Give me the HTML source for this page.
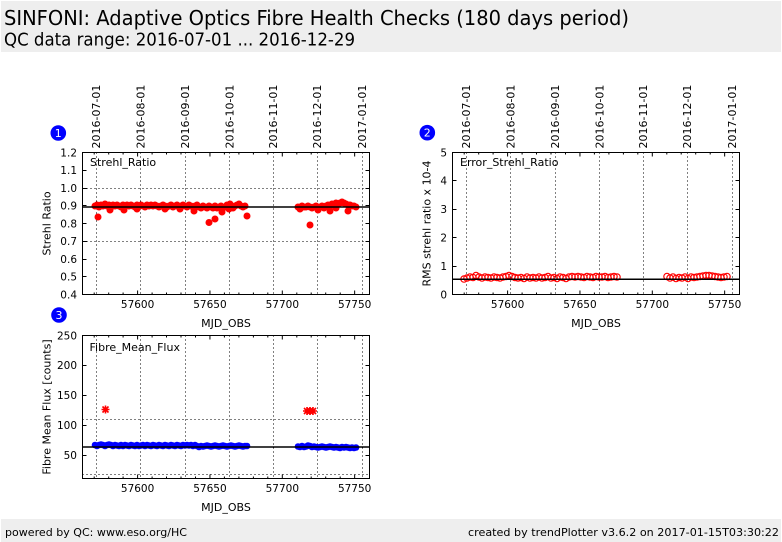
<!DOCTYPE html>
<html><head><meta charset="utf-8"><style>
html,body{margin:0;padding:0;background:#fff;}
svg{display:block;}
text{font-family:"DejaVu Sans","Liberation Sans",sans-serif;fill:#000;}
.mono{font-family:"DejaVu Sans Mono","Liberation Mono",monospace;font-size:11px;}
.tk{font-size:10.5px;}
.al{font-size:11px;}
</style></head><body>
<svg width="782" height="542" viewBox="0 0 782 542" xmlns="http://www.w3.org/2000/svg">
<rect x="0" y="0" width="782" height="542" fill="#fff"/>
<rect x="1" y="1" width="780" height="51" fill="#eeeeee"/>
<text x="4" y="25" font-size="20" textLength="625" lengthAdjust="spacingAndGlyphs">SINFONI: Adaptive Optics Fibre Health Checks (180 days period)</text>
<text x="4" y="45.5" font-size="18" textLength="351" lengthAdjust="spacingAndGlyphs">QC data range: 2016-07-01 ... 2016-12-29</text>
<rect x="1" y="519" width="780" height="23" fill="#eeeeee"/>
<text x="5" y="536" font-size="11" textLength="182" lengthAdjust="spacingAndGlyphs">powered by QC: www.eso.org/HC</text>
<text x="468" y="536" font-size="11" textLength="311" lengthAdjust="spacingAndGlyphs">created by trendPlotter v3.6.2 on 2017-01-15T03:30:22</text>

<defs>
<path id="xt" d="M137.6 0v-4M209.95 0v-4M282.3 0v-4M354.65 0v-4M94.2 0v-2M108.7 0v-2M123.1 0v-2M152.1 0v-2M166.5 0v-2M181 0v-2M195.5 0v-2M224.4 0v-2M238.9 0v-2M253.4 0v-2M267.8 0v-2M296.8 0v-2M311.2 0v-2M325.7 0v-2M340.2 0v-2"/>
<path id="vd" d="M96.5 0v142M140.5 0v142M185.5 0v142M229.5 0v142M273.5 0v142M317.5 0v142M362.5 0v142"/>
<path id="vd3" d="M96.5 0v143M140.5 0v143M185.5 0v143M229.5 0v143M273.5 0v143M317.5 0v143M362.5 0v143"/>
</defs>

<!-- ============ PLOT 1 ============ -->
<g stroke="#000" stroke-width="1" stroke-dasharray="1,3" fill="none">
<use href="#vd" transform="translate(0,152.5)"/>
<path d="M82.5 188.5H369.5M82.5 241.5H369.5"/>
</g>
<g fill="#ff0000">
<circle cx="95" cy="206" r="3.5"/><circle cx="97" cy="205" r="3.5"/><circle cx="99" cy="207" r="3.5"/><circle cx="101" cy="205" r="3.5"/><circle cx="103" cy="206" r="3.5"/><circle cx="105" cy="204" r="3.5"/><circle cx="107" cy="206" r="3.5"/><circle cx="109" cy="205" r="3.5"/><circle cx="111" cy="207" r="3.5"/><circle cx="113" cy="205" r="3.5"/><circle cx="115" cy="206" r="3.5"/><circle cx="117" cy="205" r="3.5"/><circle cx="119" cy="206" r="3.5"/><circle cx="121" cy="207" r="3.5"/><circle cx="123" cy="205" r="3.5"/><circle cx="125" cy="206" r="3.5"/><circle cx="127" cy="205" r="3.5"/><circle cx="129" cy="206" r="3.5"/><circle cx="131" cy="205" r="3.5"/><circle cx="133" cy="206" r="3.5"/><circle cx="135" cy="207" r="3.5"/><circle cx="137" cy="205" r="3.5"/><circle cx="139" cy="206" r="3.5"/><circle cx="141" cy="205" r="3.5"/><circle cx="143" cy="206" r="3.5"/><circle cx="145" cy="207" r="3.5"/><circle cx="147" cy="205" r="3.5"/><circle cx="149" cy="206" r="3.5"/><circle cx="151" cy="205" r="3.5"/><circle cx="153" cy="206" r="3.5"/><circle cx="155" cy="205" r="3.5"/><circle cx="157" cy="206" r="3.5"/><circle cx="159" cy="207" r="3.5"/><circle cx="161" cy="206" r="3.5"/><circle cx="163" cy="205" r="3.5"/><circle cx="165" cy="206" r="3.5"/><circle cx="167" cy="207" r="3.5"/><circle cx="169" cy="206" r="3.5"/><circle cx="171" cy="205" r="3.5"/><circle cx="173" cy="207" r="3.5"/><circle cx="175" cy="206" r="3.5"/><circle cx="177" cy="205" r="3.5"/><circle cx="179" cy="207" r="3.5"/><circle cx="181" cy="206" r="3.5"/><circle cx="183" cy="205" r="3.5"/><circle cx="185" cy="206" r="3.5"/><circle cx="187" cy="207" r="3.5"/><circle cx="189" cy="205" r="3.5"/><circle cx="191" cy="206" r="3.5"/><circle cx="193" cy="207" r="3.5"/><circle cx="195" cy="206" r="3.5"/><circle cx="197" cy="205" r="3.5"/><circle cx="199" cy="207" r="3.5"/><circle cx="201" cy="208" r="3.5"/><circle cx="203" cy="206" r="3.5"/><circle cx="205" cy="207" r="3.5"/><circle cx="207" cy="208" r="3.5"/><circle cx="209" cy="206" r="3.5"/><circle cx="211" cy="207" r="3.5"/><circle cx="213" cy="208" r="3.5"/><circle cx="215" cy="206" r="3.5"/><circle cx="217" cy="208" r="3.5"/><circle cx="219" cy="207" r="3.5"/><circle cx="221" cy="206" r="3.5"/><circle cx="223" cy="208" r="3.5"/><circle cx="225" cy="207" r="3.5"/><circle cx="227" cy="205" r="3.5"/><circle cx="229" cy="207" r="3.5"/><circle cx="231" cy="206" r="3.5"/><circle cx="233" cy="208" r="3.5"/><circle cx="235" cy="206" r="3.5"/><circle cx="237" cy="205" r="3.5"/><circle cx="239" cy="204" r="3.5"/><circle cx="241" cy="206" r="3.5"/><circle cx="243" cy="207" r="3.5"/><circle cx="245" cy="206" r="3.5"/>
<circle cx="98" cy="217" r="3.5"/><circle cx="110" cy="210" r="3.5"/><circle cx="124" cy="210" r="3.5"/><circle cx="137" cy="209" r="3.5"/><circle cx="165" cy="209" r="3.5"/><circle cx="180" cy="209" r="3.5"/><circle cx="194" cy="211" r="3.5"/><circle cx="209" cy="222.5" r="3.5"/><circle cx="215" cy="219" r="3.5"/><circle cx="222" cy="212" r="3.5"/><circle cx="229" cy="209" r="3.5"/><circle cx="247" cy="216" r="3.5"/><circle cx="230" cy="204" r="3.5"/>
<circle cx="298" cy="207" r="3.5"/><circle cx="300" cy="208" r="3.5"/><circle cx="302" cy="206" r="3.5"/><circle cx="304" cy="207" r="3.5"/><circle cx="306" cy="207" r="3.5"/><circle cx="308" cy="206" r="3.5"/><circle cx="310" cy="207" r="3.5"/><circle cx="312" cy="208" r="3.5"/><circle cx="314" cy="207" r="3.5"/><circle cx="316" cy="206" r="3.5"/><circle cx="318" cy="208" r="3.5"/><circle cx="320" cy="207" r="3.5"/><circle cx="322" cy="206" r="3.5"/><circle cx="324" cy="208" r="3.5"/><circle cx="326" cy="206" r="3.5"/><circle cx="328" cy="205" r="3.5"/><circle cx="330" cy="206" r="3.5"/><circle cx="332" cy="204" r="3.5"/><circle cx="334" cy="205" r="3.5"/><circle cx="336" cy="203" r="3.5"/><circle cx="338" cy="204" r="3.5"/><circle cx="340" cy="203" r="3.5"/><circle cx="342" cy="202" r="3.5"/><circle cx="344" cy="203" r="3.5"/><circle cx="346" cy="204" r="3.5"/><circle cx="348" cy="205" r="3.5"/><circle cx="350" cy="205" r="3.5"/><circle cx="352" cy="206" r="3.5"/><circle cx="354" cy="206" r="3.5"/><circle cx="356" cy="207" r="3.5"/>
<circle cx="310" cy="225" r="3.5"/><circle cx="330" cy="211" r="3.5"/><circle cx="348" cy="211" r="3.5"/><circle cx="300" cy="209" r="3.5"/><circle cx="318" cy="210" r="3.5"/><circle cx="336" cy="208" r="3.5"/>
</g>
<path d="M82.5 207H369.5" stroke="#000" stroke-width="1.5"/>
<rect x="82.5" y="152.5" width="287" height="142" fill="none" stroke="#000" stroke-width="1"/>
<g stroke="#000" stroke-width="1" fill="none">
<use href="#xt" transform="translate(0,294.5)"/>
<use href="#xt" transform="translate(0,152.5) scale(1,-1)"/>
<path d="M82.5 170.5h4M82.5 188.5h4M82.5 205.5h4M82.5 223.5h4M82.5 241.5h4M82.5 259.5h4M82.5 276.5h4M369.5 170.5h-4M369.5 188.5h-4M369.5 205.5h-4M369.5 223.5h-4M369.5 241.5h-4M369.5 259.5h-4M369.5 276.5h-4"/>
</g>
<g class="tk" text-anchor="end">
<text x="77" y="156.3">1.2</text><text x="77" y="174.05">1.1</text><text x="77" y="191.8">1.0</text><text x="77" y="209.55">0.9</text><text x="77" y="227.3">0.8</text><text x="77" y="245.05">0.7</text><text x="77" y="262.8">0.6</text><text x="77" y="280.55">0.5</text><text x="77" y="298.3">0.4</text>
</g>
<g class="tk" text-anchor="middle">
<text x="137.6" y="308">57600</text><text x="209.95" y="308">57650</text><text x="282.3" y="308">57700</text><text x="354.65" y="308">57750</text>
</g>
<text class="al" x="226" y="327" text-anchor="middle">MJD_OBS</text>
<text class="al" transform="translate(50.5,223.5) rotate(-90)" text-anchor="middle">Strehl Ratio</text>
<text class="al" x="90" y="166">Strehl_Ratio</text>
<g class="mono">
<text transform="translate(100,148.5) rotate(-90)">2016-07-01</text>
<text transform="translate(144.5,148.5) rotate(-90)">2016-08-01</text>
<text transform="translate(189,148.5) rotate(-90)">2016-09-01</text>
<text transform="translate(233.3,148.5) rotate(-90)">2016-10-01</text>
<text transform="translate(277,148.5) rotate(-90)">2016-11-01</text>
<text transform="translate(321.2,148.5) rotate(-90)">2016-12-01</text>
<text transform="translate(366,148.5) rotate(-90)">2017-01-01</text>
</g>
<circle cx="58.3" cy="133" r="7.8" fill="#0000ff"/>
<text x="58.3" y="137" font-size="11" text-anchor="middle" style="fill:#fff">1</text>

<!-- ============ PLOT 2 ============ -->
<g stroke="#000" stroke-width="1" stroke-dasharray="1,3" fill="none">
<use href="#vd" transform="translate(370,152.5)"/>
</g>
<g fill="none" stroke="#ff0000" stroke-width="1.2">
<circle cx="464" cy="279" r="3.2"/><circle cx="467" cy="278" r="3.2"/><circle cx="470" cy="277" r="3.2"/><circle cx="473" cy="277.5" r="3.2"/><circle cx="476" cy="275.5" r="3.2"/><circle cx="479" cy="277" r="3.2"/><circle cx="482" cy="278" r="3.2"/><circle cx="485" cy="277" r="3.2"/><circle cx="488" cy="277.5" r="3.2"/><circle cx="491" cy="278" r="3.2"/><circle cx="494" cy="277" r="3.2"/><circle cx="497" cy="277.5" r="3.2"/><circle cx="500" cy="278" r="3.2"/><circle cx="503" cy="277" r="3.2"/><circle cx="506" cy="276.5" r="3.2"/><circle cx="509" cy="275.5" r="3.2"/><circle cx="512" cy="276.5" r="3.2"/><circle cx="515" cy="277.5" r="3.2"/><circle cx="518" cy="278" r="3.2"/><circle cx="521" cy="277.5" r="3.2"/><circle cx="524" cy="278.5" r="3.2"/><circle cx="527" cy="277" r="3.2"/><circle cx="530" cy="278" r="3.2"/><circle cx="533" cy="277.5" r="3.2"/><circle cx="536" cy="278" r="3.2"/><circle cx="539" cy="277" r="3.2"/><circle cx="542" cy="278" r="3.2"/><circle cx="545" cy="277.5" r="3.2"/><circle cx="548" cy="276.5" r="3.2"/><circle cx="551" cy="278" r="3.2"/><circle cx="554" cy="277.5" r="3.2"/><circle cx="557" cy="278.5" r="3.2"/><circle cx="560" cy="277" r="3.2"/><circle cx="563" cy="277.5" r="3.2"/><circle cx="566" cy="278.5" r="3.2"/><circle cx="569" cy="277" r="3.2"/><circle cx="572" cy="276.5" r="3.2"/><circle cx="575" cy="277" r="3.2"/><circle cx="578" cy="276.5" r="3.2"/><circle cx="581" cy="277" r="3.2"/><circle cx="584" cy="277.5" r="3.2"/><circle cx="587" cy="276.5" r="3.2"/><circle cx="590" cy="277" r="3.2"/><circle cx="593" cy="277.5" r="3.2"/><circle cx="596" cy="276.5" r="3.2"/><circle cx="599" cy="277" r="3.2"/><circle cx="602" cy="277" r="3.2"/><circle cx="605" cy="276.5" r="3.2"/><circle cx="608" cy="277.5" r="3.2"/><circle cx="611" cy="277" r="3.2"/><circle cx="614" cy="276.5" r="3.2"/><circle cx="617" cy="277" r="3.2"/>
<circle cx="667" cy="276.5" r="3.2"/><circle cx="670" cy="278" r="3.2"/><circle cx="673" cy="277" r="3.2"/><circle cx="676" cy="278.5" r="3.2"/><circle cx="679" cy="277.5" r="3.2"/><circle cx="682" cy="278" r="3.2"/><circle cx="685" cy="277" r="3.2"/><circle cx="688" cy="278.5" r="3.2"/><circle cx="691" cy="277" r="3.2"/><circle cx="694" cy="277.5" r="3.2"/><circle cx="697" cy="277" r="3.2"/><circle cx="700" cy="276.5" r="3.2"/><circle cx="703" cy="276" r="3.2"/><circle cx="706" cy="275.5" r="3.2"/><circle cx="709" cy="275.5" r="3.2"/><circle cx="712" cy="276" r="3.2"/><circle cx="715" cy="276.5" r="3.2"/><circle cx="718" cy="277" r="3.2"/><circle cx="721" cy="277.5" r="3.2"/><circle cx="724" cy="277" r="3.2"/><circle cx="727" cy="276.5" r="3.2"/>
</g>
<path d="M452.5 279.3H739.5" stroke="#000" stroke-width="1.5"/>
<rect x="452.5" y="152.5" width="287" height="142" fill="none" stroke="#000" stroke-width="1"/>
<g stroke="#000" stroke-width="1" fill="none">
<use href="#xt" transform="translate(370,294.5)"/>
<use href="#xt" transform="translate(370,152.5) scale(1,-1)"/>
<path d="M452.5 180.5h4M452.5 209.5h4M452.5 237.5h4M452.5 266.5h4M739.5 180.5h-4M739.5 209.5h-4M739.5 237.5h-4M739.5 266.5h-4"/>
</g>
<g class="tk" text-anchor="end">
<text x="447" y="156.3">5</text><text x="447" y="184.7">4</text><text x="447" y="213.1">3</text><text x="447" y="241.5">2</text><text x="447" y="269.9">1</text><text x="447" y="298.3">0</text>
</g>
<g class="tk" text-anchor="middle">
<text x="507.6" y="308">57600</text><text x="579.95" y="308">57650</text><text x="652.3" y="308">57700</text><text x="724.65" y="308">57750</text>
</g>
<text class="al" x="596" y="327" text-anchor="middle">MJD_OBS</text>
<text class="al" transform="translate(430.5,223.5) rotate(-90)" text-anchor="middle">RMS strehl ratio x 10-4</text>
<text class="al" x="460" y="166">Error_Strehl_Ratio</text>
<g class="mono">
<text transform="translate(470,148.5) rotate(-90)">2016-07-01</text>
<text transform="translate(514.5,148.5) rotate(-90)">2016-08-01</text>
<text transform="translate(559,148.5) rotate(-90)">2016-09-01</text>
<text transform="translate(603.3,148.5) rotate(-90)">2016-10-01</text>
<text transform="translate(647,148.5) rotate(-90)">2016-11-01</text>
<text transform="translate(691.2,148.5) rotate(-90)">2016-12-01</text>
<text transform="translate(736,148.5) rotate(-90)">2017-01-01</text>
</g>
<circle cx="427.3" cy="132.7" r="7.8" fill="#0000ff"/>
<text x="427.3" y="136.7" font-size="11" text-anchor="middle" style="fill:#fff">2</text>

<!-- ============ PLOT 3 ============ -->
<g stroke="#000" stroke-width="1" stroke-dasharray="1,3" fill="none">
<use href="#vd3" transform="translate(0,335.5)"/>
<path d="M82.5 419.5H369.5M82.5 474.5H369.5"/>
</g>
<g fill="#0000ff">
<circle cx="95" cy="445" r="3.3"/><circle cx="97" cy="446" r="3.3"/><circle cx="99" cy="445" r="3.3"/><circle cx="101" cy="444.5" r="3.3"/><circle cx="103" cy="445" r="3.3"/><circle cx="105" cy="446" r="3.3"/><circle cx="107" cy="445" r="3.3"/><circle cx="109" cy="444.5" r="3.3"/><circle cx="111" cy="445" r="3.3"/><circle cx="113" cy="446" r="3.3"/><circle cx="115" cy="445" r="3.3"/><circle cx="117" cy="445.5" r="3.3"/><circle cx="119" cy="446" r="3.3"/><circle cx="121" cy="445" r="3.3"/><circle cx="123" cy="446" r="3.3"/><circle cx="125" cy="445" r="3.3"/><circle cx="127" cy="445.5" r="3.3"/><circle cx="129" cy="446" r="3.3"/><circle cx="131" cy="445" r="3.3"/><circle cx="133" cy="445.5" r="3.3"/><circle cx="135" cy="446" r="3.3"/><circle cx="137" cy="445" r="3.3"/><circle cx="139" cy="446" r="3.3"/><circle cx="141" cy="445.5" r="3.3"/><circle cx="143" cy="445" r="3.3"/><circle cx="145" cy="446" r="3.3"/><circle cx="147" cy="445" r="3.3"/><circle cx="149" cy="445.5" r="3.3"/><circle cx="151" cy="446" r="3.3"/><circle cx="153" cy="445" r="3.3"/><circle cx="155" cy="445.5" r="3.3"/><circle cx="157" cy="446" r="3.3"/><circle cx="159" cy="445" r="3.3"/><circle cx="161" cy="445.5" r="3.3"/><circle cx="163" cy="446" r="3.3"/><circle cx="165" cy="445" r="3.3"/><circle cx="167" cy="445.5" r="3.3"/><circle cx="169" cy="446" r="3.3"/><circle cx="171" cy="445" r="3.3"/><circle cx="173" cy="445.5" r="3.3"/><circle cx="175" cy="446" r="3.3"/><circle cx="177" cy="445" r="3.3"/><circle cx="179" cy="445.5" r="3.3"/><circle cx="181" cy="446" r="3.3"/><circle cx="183" cy="445" r="3.3"/><circle cx="185" cy="445.5" r="3.3"/><circle cx="187" cy="445" r="3.3"/><circle cx="189" cy="445.5" r="3.3"/><circle cx="191" cy="445" r="3.3"/><circle cx="193" cy="446" r="3.3"/><circle cx="195" cy="445" r="3.3"/><circle cx="197" cy="446" r="3.3"/><circle cx="199" cy="447" r="3.3"/><circle cx="201" cy="446" r="3.3"/><circle cx="203" cy="446.5" r="3.3"/><circle cx="205" cy="446" r="3.3"/><circle cx="207" cy="445.5" r="3.3"/><circle cx="209" cy="446" r="3.3"/><circle cx="211" cy="446.5" r="3.3"/><circle cx="213" cy="446" r="3.3"/><circle cx="215" cy="445.5" r="3.3"/><circle cx="217" cy="446" r="3.3"/><circle cx="219" cy="446.5" r="3.3"/><circle cx="221" cy="446" r="3.3"/><circle cx="223" cy="445.5" r="3.3"/><circle cx="225" cy="446" r="3.3"/><circle cx="227" cy="446.5" r="3.3"/><circle cx="229" cy="446" r="3.3"/><circle cx="231" cy="445.5" r="3.3"/><circle cx="233" cy="446" r="3.3"/><circle cx="235" cy="446.5" r="3.3"/><circle cx="237" cy="446" r="3.3"/><circle cx="239" cy="445.5" r="3.3"/><circle cx="241" cy="446" r="3.3"/><circle cx="243" cy="446.5" r="3.3"/><circle cx="245" cy="446" r="3.3"/><circle cx="247" cy="446" r="3.3"/>
<circle cx="298" cy="446.5" r="3.3"/><circle cx="300" cy="447" r="3.3"/><circle cx="302" cy="446" r="3.3"/><circle cx="304" cy="447" r="3.3"/><circle cx="306" cy="446.5" r="3.3"/><circle cx="308" cy="445.5" r="3.3"/><circle cx="310" cy="446" r="3.3"/><circle cx="312" cy="447" r="3.3"/><circle cx="314" cy="446.5" r="3.3"/><circle cx="316" cy="447" r="3.3"/><circle cx="318" cy="447.5" r="3.3"/><circle cx="320" cy="447" r="3.3"/><circle cx="322" cy="446.5" r="3.3"/><circle cx="324" cy="447" r="3.3"/><circle cx="326" cy="447.5" r="3.3"/><circle cx="328" cy="447" r="3.3"/><circle cx="330" cy="446.5" r="3.3"/><circle cx="332" cy="447" r="3.3"/><circle cx="334" cy="447.5" r="3.3"/><circle cx="336" cy="447" r="3.3"/><circle cx="338" cy="447.5" r="3.3"/><circle cx="340" cy="448" r="3.3"/><circle cx="342" cy="447" r="3.3"/><circle cx="344" cy="447.5" r="3.3"/><circle cx="346" cy="447" r="3.3"/><circle cx="348" cy="447.5" r="3.3"/><circle cx="350" cy="448" r="3.3"/><circle cx="352" cy="447.5" r="3.3"/><circle cx="354" cy="448" r="3.3"/><circle cx="356" cy="447.5" r="3.3"/>
</g>
<g stroke="#ff0000" stroke-width="1.6" fill="none">
<path d="M101.5 409.5h8M105.5 405.5v8M102.5 406.5l6 6M102.5 412.5l6-6"/>
<path d="M303 411h8M307 407v8M304 408l6 6M304 414l6-6"/>
<path d="M306 411h8M310 407v8M307 408l6 6M307 414l6-6"/>
<path d="M309 411h8M313 407v8M310 408l6 6M310 414l6-6"/>
</g>
<path d="M82.5 447H369.5" stroke="#000" stroke-width="1.5"/>
<rect x="82.5" y="335.5" width="287" height="143" fill="none" stroke="#000" stroke-width="1"/>
<g stroke="#000" stroke-width="1" fill="none">
<use href="#xt" transform="translate(0,478.5)"/>
<use href="#xt" transform="translate(0,335.5) scale(1,-1)"/>
<path d="M82.5 365.5h4M82.5 395.5h4M82.5 425.5h4M82.5 455.5h4M369.5 365.5h-4M369.5 395.5h-4M369.5 425.5h-4M369.5 455.5h-4"/>
</g>
<g class="tk" text-anchor="end">
<text x="77" y="339.3">250</text><text x="77" y="369.2">200</text><text x="77" y="399.1">150</text><text x="77" y="428.9">100</text><text x="77" y="458.8">50</text>
</g>
<g class="tk" text-anchor="middle">
<text x="137.6" y="492">57600</text><text x="209.95" y="492">57650</text><text x="282.3" y="492">57700</text><text x="354.65" y="492">57750</text>
</g>
<text class="al" x="226" y="511" text-anchor="middle">MJD_OBS</text>
<text class="al" transform="translate(50.5,407) rotate(-90)" text-anchor="middle">Fibre Mean Flux [counts]</text>
<text class="al" x="89.5" y="351">Fibre_Mean_Flux</text>
<circle cx="59" cy="315" r="7.8" fill="#0000ff"/>
<text x="59" y="319" font-size="11" text-anchor="middle" style="fill:#fff">3</text>
</svg>
</body></html>
